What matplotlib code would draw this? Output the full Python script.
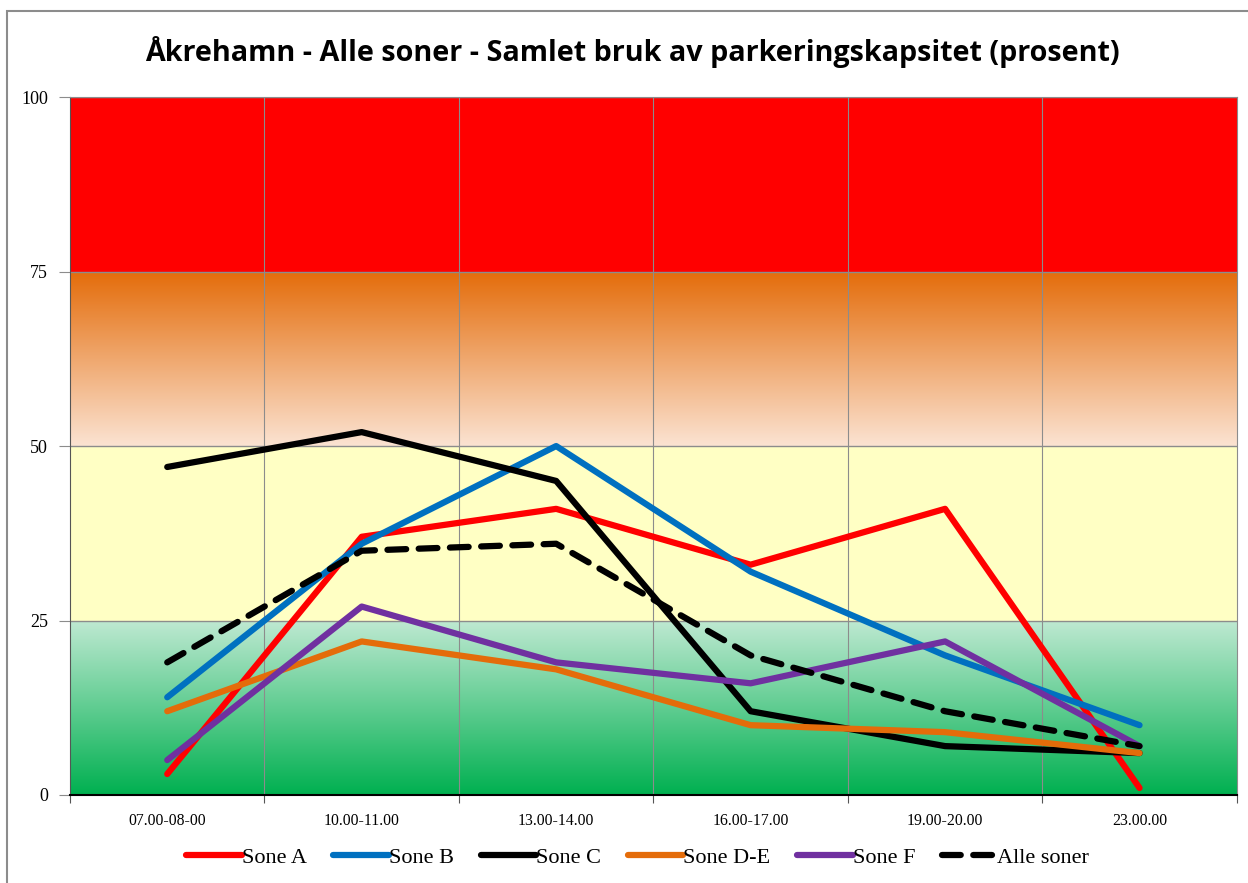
import numpy as np
import matplotlib
matplotlib.use("Agg")
from matplotlib import pyplot as plt
from matplotlib.colors import LinearSegmentedColormap
from matplotlib.patches import Rectangle

categories = ["07.00-08-00", "10.00-11.00", "13.00-14.00", "16.00-17.00", "19.00-20.00", "23.00.00"]
sone_a = [3, 37, 41, 33, 41, 1]
sone_b = [14, 36, 50, 32, 20, 10]
sone_c = [47, 52, 45, 12, 7, 6]
sone_de = [12, 22, 18, 10, 9, 6]
sone_f = [5, 27, 19, 16, 22, 7]
alle = [19, 35, 36, 20, 12, 7]
y_ticks = [0, 25, 50, 75, 100]

fig = plt.figure(figsize=(12.48, 8.83), dpi=100)
fig.patches.append(Rectangle((0.006, -0.01), 1.1, 0.997, transform=fig.transFigure,
                             fill=False, edgecolor="#8c8c8c", linewidth=1.5))
ax = fig.add_axes([0.0561, 0.0997, 0.9349, 0.7903])

n = len(categories)
x = np.arange(n)

# background bands
grad = np.linspace(0, 1, 256).reshape(-1, 1)
green = LinearSegmentedColormap.from_list("g", ["#00b050", "#bfe9d2"])
orange = LinearSegmentedColormap.from_list("o", ["#fbe3d2", "#e46c0a"])
ax.imshow(grad, cmap=green, origin="lower", aspect="auto",
          extent=[-0.5, n - 0.5, 0, 25], zorder=0)
ax.axhspan(25, 50, color="#ffffc4", zorder=0, lw=0)
ax.imshow(grad, cmap=orange, origin="lower", aspect="auto",
          extent=[-0.5, n - 0.5, 50, 75], zorder=0)
ax.axhspan(75, 100, color="#ff0000", zorder=0, lw=0)
ax.set_xlim(-0.5, n - 0.5)
ax.set_ylim(0, 100)

for v in y_ticks[1:]:
    ax.axhline(v, color="#8c8c8c", lw=1, zorder=1)
for b in np.arange(0.5, n - 0.5, 1):
    ax.axvline(b, color="#8c8c8c", lw=0.8, zorder=1)

lw = 4.5
ax.plot(x, sone_a, color="#ff0000", lw=lw, label="Sone A", solid_capstyle="round", zorder=3)
ax.plot(x, sone_b, color="#0070c0", lw=lw, label="Sone B", solid_capstyle="round", zorder=3)
ax.plot(x, sone_c, color="#000000", lw=lw, label="Sone C", solid_capstyle="round", zorder=3)
ax.plot(x, sone_de, color="#e46c0a", lw=lw, label="Sone D-E", solid_capstyle="round", zorder=3)
ax.plot(x, sone_f, color="#7030a0", lw=lw, label="Sone F", solid_capstyle="round", zorder=3)
ax.plot(x, alle, color="#000000", lw=lw, label="Alle soner", linestyle=(0, (3, 2)),
        dash_capstyle="round", zorder=4)

ax.set_yticks(y_ticks)
ax.set_yticklabels([str(v) for v in y_ticks], fontfamily="Liberation Serif", fontsize=13)
ax.set_xticks(np.arange(-0.5, n, 1))
ax.set_xticklabels([])
ax.set_xticks(x, minor=True)
ax.set_xticklabels(categories, minor=True, fontfamily="Liberation Serif", fontsize=11.3)
ax.tick_params(axis="x", which="minor", length=0, pad=13)
ax.tick_params(axis="x", which="major", length=6, color="#555555")
ax.tick_params(axis="y", length=8, color="#8c8c8c", pad=8)

for s in ["top", "right"]:
    ax.spines[s].set_color("#8c8c8c")
ax.spines["left"].set_color("#555555")
ax.spines["bottom"].set_color("#000000")
ax.spines["bottom"].set_linewidth(1.5)

fig.text(0.507, 0.941, "Åkrehamn - Alle soner - Samlet bruk av parkeringskapsitet (prosent)",
         ha="center", va="center", fontsize=20.7, fontweight="bold", family="Open Sans")

leg = fig.legend(loc="center", bbox_to_anchor=(0.511, 0.029), ncol=6, frameon=False,
                 prop={"family": "Liberation Serif", "size": 16},
                 handlelength=2.5, handletextpad=0.0, columnspacing=1.2)

fig.savefig("out.png", dpi=100)
